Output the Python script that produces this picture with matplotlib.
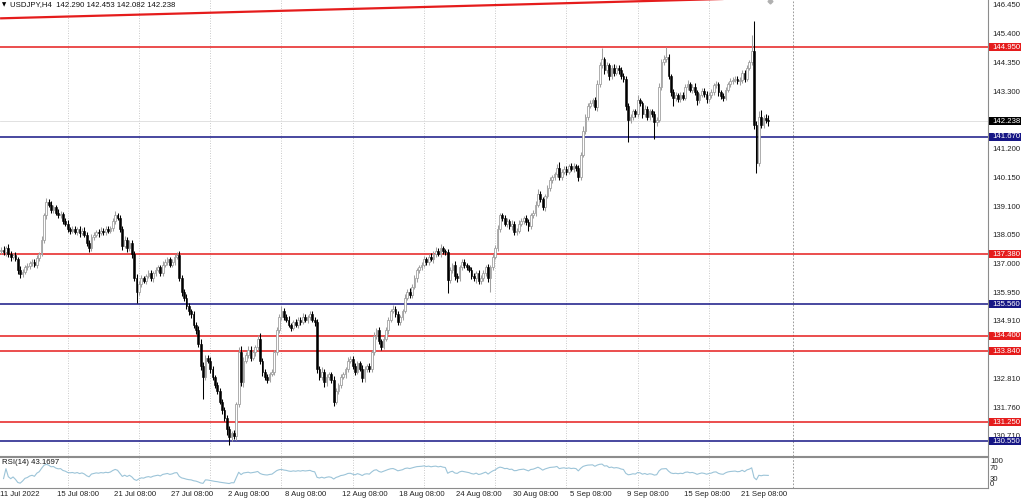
import matplotlib
matplotlib.use("Agg")
import matplotlib.pyplot as plt
import matplotlib.transforms as mtransforms
from matplotlib.patches import Rectangle
import numpy as np
import pandas as pd

plt.rcParams["font.family"] = ["Liberation Sans", "DejaVu Sans"]

SYMBOL_TEXT = "USDJPY,H4  142.290 142.453 142.082 142.238"
RSI_TEXT = "RSI(14) 43.1697"
FIRST_OPEN = 137.50
LAST_PRICE = 142.238

# H4 closes, 11 Jul 2022 08:00 -> 22 Sep 2022 (open of each bar = previous close)
closes = [
    137.55, 137.45, 137.60, 137.40, 137.30, 137.35, 137.20, 136.80, 136.65,
    136.75, 136.90, 136.95, 137.05, 137.10, 137.00, 137.25, 137.40,
    137.90, 138.80, 139.30,
    139.20, 139.00, 139.10, 138.90, 138.80, 138.85,
    138.60, 138.50, 138.30, 138.25, 138.30,
    138.20, 138.30, 138.15, 138.25, 138.10,
    137.80, 137.60, 138.00,
    138.10, 138.20, 138.15, 138.25, 138.20, 138.30, 138.25, 138.35,
    138.60, 138.80, 138.70,
    138.30, 137.70, 137.90, 137.60, 137.80, 137.40,
    136.50, 136.00,
    136.30, 136.50, 136.40, 136.60, 136.70, 136.50, 136.70, 136.80, 136.90,
    136.70, 137.00, 137.10, 137.20, 137.00,
    137.10, 137.30, 137.35,
    136.50, 136.00, 135.80, 135.50, 135.30, 135.20,
    134.80, 134.60,
    134.10, 133.30, 132.90, 133.60, 133.50,
    133.20, 132.90, 132.60, 132.40, 132.00, 131.70, 131.40, 131.00, 130.70,
    130.85, 130.75,
    131.90, 133.80, 132.70, 133.50,
    133.70, 133.90, 133.60, 133.80,
    134.00, 134.30, 133.50,
    133.10, 132.90, 132.80, 133.00, 133.10,
    133.80, 134.60, 135.10, 135.30, 135.10,
    135.00, 134.80, 134.70, 134.90, 134.80, 135.00, 134.90, 135.10, 135.00,
    135.10, 135.20, 135.00, 134.90,
    133.20,
    132.90, 133.10, 132.70, 132.90, 133.00, 132.80, 132.00,
    132.40, 132.60, 132.90, 133.00, 133.20, 133.50, 133.55,
    133.30, 133.10, 133.40, 133.20, 132.85,
    133.20, 133.30, 133.20,
    133.80, 134.40, 134.60,
    134.20, 134.00, 134.30,
    134.60, 135.00, 135.30, 135.40,
    135.20, 134.90, 135.10, 135.30,
    135.80, 136.00, 135.90, 136.20,
    136.50, 136.80, 136.90,
    137.00, 137.20, 137.10, 137.30, 137.20,
    137.40, 137.50, 137.40, 137.60, 137.50, 137.45,
    136.45,
    136.80, 137.00, 136.60, 136.50, 136.90,
    137.10, 137.00, 136.90,
    136.80, 136.60, 136.50, 136.70, 136.40, 136.50,
    136.70, 136.90, 136.50, 136.90,
    137.30, 137.60,
    138.30, 138.80,
    138.70, 138.50, 138.60, 138.40, 138.50, 138.20,
    138.25,
    138.50, 138.60, 138.70, 138.55, 138.40,
    138.80, 138.90, 139.20,
    139.60, 139.40, 139.10,
    139.50, 139.80, 140.10, 140.20,
    140.30, 140.55, 140.20,
    140.40, 140.50, 140.40, 140.60, 140.50, 140.60, 140.55,
    140.20,
    141.00, 141.90, 142.40,
    142.80, 142.90, 143.00, 142.75,
    143.60, 144.30, 144.50,
    144.10, 144.30, 143.90, 144.20, 144.00,
    144.20, 144.10, 143.90, 143.80,
    142.80, 142.30,
    142.40, 142.60, 142.50,
    143.00, 142.90, 142.50,
    142.70, 142.40, 142.60, 142.50, 142.20, 142.30,
    143.50, 144.40, 144.50, 144.60,
    143.90, 143.30, 143.10, 143.20,
    143.05, 143.20, 143.10, 143.50, 143.60,
    143.40, 143.50, 143.30, 143.00,
    143.20, 143.35, 143.25, 143.05,
    143.20, 143.30, 143.55, 143.60,
    143.30, 143.15, 143.10,
    143.40, 143.60, 143.70, 143.75, 143.80, 143.70, 143.75,
    144.00, 143.80, 144.20, 144.40, 144.80,
    142.10, 140.70, 142.40, 142.10, 142.35, 142.29, 142.238,
]

# wick lengths above / below the candle body
wick_up = [
    .10, .12, .08, .15, .10, .08, .12, .10, .15, .08, .10, .12,
    .08, .10, .12, .10, .08, .15, .10, .15, .10, .12, .08, .10,
    .12, .10, .08, .10, .12, .08, .10, .12, .08, .10, .10, .12,
    .08, .10, .12, .10, .08, .10, .12, .08, .10, .10, .08, .12,
    .15, .10, .12, .10, .15, .12, .10, .10, .12, .15, .10, .12,
    .10, .08, .12, .10, .08, .12, .10, .08, .12, .10, .10, .08,
    .10, .08, .10, .15, .12, .10, .12, .10, .08, .12, .10, .15,
    .20, .15, .12, .10, .12, .10, .08, .12, .10, .08, .12, .10,
    .10, .08, .12, .10, .20, .25, .12, .10, .15, .12, .10, .08,
    .12, .20, .10, .08, .12, .10, .08, .10, .12, .10, .20, .12,
    .10, .12, .08, .10, .12, .08, .10, .12, .10, .08, .12, .10,
    .10, .12, .10, .15, .10, .12, .08, .10, .12, .10, .08, .12,
    .10, .08, .12, .10, .12, .10, .08, .10, .15, .10, .08, .12,
    .10, .15, .10, .12, .08, .10, .12, .08, .10, .12, .10, .12,
    .08, .10, .12, .10, .15, .10, .12, .08, .10, .10, .12, .08,
    .10, .12, .10, .15, .10, .15, .10, .08, .12, .10, .08, .12,
    .10, .08, .12, .10, .08, .10, .12, .10, .08, .10, .12, .10,
    .08, .12, .10, .10, .12, .15, .10, .08, .12, .10, .08, .12,
    .10, .08, .12, .10, .08, .10, .12, .08, .10, .12, .15, .10,
    .08, .10, .12, .10, .08, .10, .12, .20, .08, .10, .12, .08,
    .10, .12, .08, .10, .12, .15, .10, .12, .10, .08, .12, .15,
    .12, .40, .10, .12, .08, .10, .12, .10, .08, .12, .10, .08,
    .10, .12, .08, .10, .20, .10, .08, .12, .10, .08, .10, .12,
    .10, .12, .10, .15, .35, .10, .08, .12, .10, .08, .12, .10,
    .10, .15, .08, .10, .12, .10, .08, .12, .10, .08, .10, .12,
    .10, .12, .08, .10, .12, .10, .08, .12, .10, .08, .10, .12,
    .10, .12, .10, .08, .60, 1.10, .15, .20, .25, .12, .15, .163,
]
wick_dn = [
    .10, .08, .12, .10, .15, .10, .08, .12, .15, .10, .08, .10,
    .12, .10, .08, .12, .10, .08, .10, .12, .08, .10, .12, .10,
    .08, .10, .12, .08, .10, .12, .10, .08, .10, .12, .08, .10,
    .12, .15, .10, .08, .10, .12, .08, .10, .12, .08, .10, .12,
    .10, .08, .12, .15, .10, .12, .10, .15, .10, .40, .12, .10,
    .08, .12, .10, .08, .12, .10, .08, .12, .10, .08, .12, .10,
    .10, .12, .08, .10, .15, .12, .10, .12, .15, .10, .12, .10,
    .15, .80, .12, .10, .15, .12, .10, .12, .10, .15, .12, .20,
    .30, .12, .10, .15, .10, .12, .15, .10, .12, .10, .08, .12,
    .10, .12, .15, .10, .12, .10, .08, .12, .10, .08, .10, .12,
    .10, .08, .12, .10, .08, .12, .10, .08, .10, .12, .10, .08,
    .12, .15, .12, .10, .15, .12, .10, .12, .15, .10, .12, .10,
    .08, .12, .10, .08, .10, .12, .10, .08, .12, .15, .10, .12,
    .10, .08, .12, .10, .12, .08, .10, .12, .10, .08, .12, .10,
    .10, .12, .08, .10, .12, .10, .08, .12, .10, .08, .10, .12,
    .10, .08, .12, .10, .08, .12, .10, .08, .50, .12, .10, .15,
    .12, .10, .08, .12, .10, .08, .12, .10, .15, .10, .12, .10,
    .10, .12, .50, .10, .08, .10, .12, .10, .08, .12, .10, .12,
    .10, .12, .10, .08, .12, .10, .15, .08, .10, .12, .10, .12,
    .10, .12, .08, .10, .12, .10, .08, .12, .10, .08, .12, .10,
    .08, .10, .12, .15, .10, .08, .12, .10, .08, .12, .10, .15,
    .12, .10, .12, .10, .15, .12, .10, .08, .12, .10, .12, .15,
    .80, .12, .10, .12, .10, .12, .15, .10, .12, .10, .12, .60,
    .12, .10, .12, .10, .08, .12, .15, .30, .12, .10, .12, .10,
    .08, .12, .10, .12, .10, .15, .10, .08, .12, .15, .10, .12,
    .10, .08, .12, .10, .12, .10, .08, .12, .10, .08, .10, .12,
    .10, .12, .10, .08, .12, .15, .35, .10, .12, .10, .12, .156,
]

date_labels = [
    "11 Jul 2022", "15 Jul 08:00", "21 Jul 08:00", "27 Jul 08:00",
    "2 Aug 08:00", "8 Aug 08:00", "12 Aug 08:00", "18 Aug 08:00",
    "24 Aug 08:00", "30 Aug 08:00", "5 Sep 08:00", "9 Sep 08:00",
    "15 Sep 08:00", "21 Sep 08:00",
]
date_bars = [0, 24, 48, 72, 96, 120, 144, 168, 192, 216, 240, 264, 288, 312]

# Monday 00:00 bars (weekly separators)
week_bars = [28, 58, 88, 118, 148, 178, 208, 238, 268, 298]
shift_bar = 333.4

price_ticks = [146.45, 145.40, 144.35, 143.30, 141.20, 140.15, 139.10,
               138.05, 137.00, 135.95, 134.91, 133.86, 132.81, 131.76, 130.71]
price_tick_labels = ["146.450", "145.400", "144.350", "143.300", "141.200",
                     "140.150", "139.100", "138.050", "137.000", "135.950",
                     "134.910", "133.860", "132.810", "131.760", "130.710"]

resistance_levels = [144.950, 137.380, 134.400, 133.840, 131.250]
support_levels = [141.670, 135.560, 130.550]

trend_bars = [0, 340]
trend_prices = [146.00, 146.79]

rsi_levels = ["100", "70", "30", "0"]
rsi_level_pos = [92, 70, 30, 12]

RED = "#e51c1c"
NAVY = "#161685"
BULL = "#a0a0a0"
GRID = "#b8b8b8"
FS = 5.6

fig = plt.figure(figsize=(10.24, 5.0), dpi=100)
fig.patch.set_facecolor("white")
ax = fig.add_axes([0, 44 / 500, 988 / 1024, 456 / 500])
ax_rsi = fig.add_axes([0, 12 / 500, 988 / 1024, 31 / 500])

n = len(closes)
x = np.arange(n)
c = np.array(closes)
opens = np.concatenate([[FIRST_OPEN], c[:-1]])
highs = np.maximum(opens, c) + np.array(wick_up)
lows = np.minimum(opens, c) - np.array(wick_dn)
up = c >= opens
body_lo = np.minimum(opens, c)
body_h = np.maximum(np.abs(c - opens), 0.03)

for a in (ax, ax_rsi):
    for b in week_bars:
        a.axvline(b, color=GRID, lw=0.6, ls=(0, (1, 2)), zorder=0)
    a.axvline(shift_bar, color="#8a8a8a", lw=0.6, ls=(0, (2, 2)), zorder=0)
    a.set_xlim(-0.5, 415.5)
    a.set_xticks([])
    a.set_yticks([])
    for s in ("top", "left"):
        a.spines[s].set_visible(False)
    for s in ("right", "bottom"):
        a.spines[s].set_color("#8c8c8c")
        a.spines[s].set_linewidth(0.8)
ax_rsi.spines["top"].set_visible(True)
ax_rsi.spines["top"].set_color("#8c8c8c")
ax_rsi.spines["top"].set_linewidth(0.8)

# candles
ax.vlines(x[up], lows[up], highs[up], color=BULL, lw=0.75, zorder=3)
ax.vlines(x[~up], lows[~up], highs[~up], color="black", lw=0.75, zorder=3)
ax.bar(x[up], body_h[up], bottom=body_lo[up], width=0.72, color="white",
       edgecolor=BULL, linewidth=0.6, zorder=4)
ax.bar(x[~up], body_h[~up], bottom=body_lo[~up], width=0.72, color="black",
       edgecolor="black", linewidth=0.4, zorder=4)

# levels
ax.axhline(LAST_PRICE, color="#dcdcdc", lw=0.6, zorder=1)
for p in resistance_levels:
    ax.axhline(p, color=RED, lw=1.1, zorder=2)
for p in support_levels:
    ax.axhline(p, color=NAVY, lw=1.1, zorder=2)
ax.plot(trend_bars, trend_prices, color=RED, lw=1.6, zorder=2)
ax.plot([323.7], [146.63], marker="D", ms=2.5, color="#b0b0b0", zorder=5)
ax.set_ylim(130.015, 146.669)

# right price scale
ytr = mtransforms.blended_transform_factory(ax.transAxes, ax.transData)
for p, lab in zip(price_ticks, price_tick_labels):
    ax.text(1.0045, p, lab, transform=ytr, fontsize=FS, color="#222222",
            ha="left", va="center", clip_on=False)

tags = ([(p, RED) for p in resistance_levels] + [(p, NAVY) for p in support_levels]
        + [(LAST_PRICE, "black")])
for p, col in tags:
    ax.add_patch(Rectangle((1.0008, p - 0.15), 0.0325, 0.30, transform=ytr,
                           facecolor=col, edgecolor="none", clip_on=False, zorder=6))
    ax.text(1.0045, p, f"{p:.3f}", transform=ytr, fontsize=FS, color="white",
            ha="left", va="center", clip_on=False, zorder=7)

ax.text(0.002, 0.996, "\u25bc", transform=ax.transAxes, fontsize=4, ha="left", va="top",
        family=["DejaVu Sans"])
ax.text(0.0105, 0.997, SYMBOL_TEXT, transform=ax.transAxes, fontsize=FS,
        ha="left", va="top", color="#111111")

# RSI(14), Wilder smoothing
delta = np.diff(c, prepend=FIRST_OPEN)
gain = pd.Series(np.clip(delta, 0, None)).ewm(alpha=1 / 14, adjust=True).mean()
loss = pd.Series(np.clip(-delta, 0, None)).ewm(alpha=1 / 14, adjust=True).mean()
rsi = 100 - 100 / (1 + gain / loss.replace(0, np.nan))
ax_rsi.plot(x[1:], rsi.values[1:], color="#9cc4d8", lw=0.8)
ax_rsi.set_ylim(-2.5, 110)
ax_rsi.text(0.002, 0.93, RSI_TEXT, transform=ax_rsi.transAxes, fontsize=FS,
            ha="left", va="top", color="#111111")
rtr = mtransforms.blended_transform_factory(ax_rsi.transAxes, ax_rsi.transData)
for lab, v in zip(rsi_levels, rsi_level_pos):
    ax_rsi.text(1.002, v, lab, transform=rtr, fontsize=FS, color="#222222",
                ha="left", va="center", clip_on=False)

# time axis labels
ttr = mtransforms.blended_transform_factory(ax_rsi.transData, fig.transFigure)
for b, lab in zip(date_bars, date_labels):
    fig.text(b - 0.5, 6 / 500, lab, transform=ttr, fontsize=FS, color="#222222",
             ha="left", va="center")

fig.savefig("out.png", dpi=100)
